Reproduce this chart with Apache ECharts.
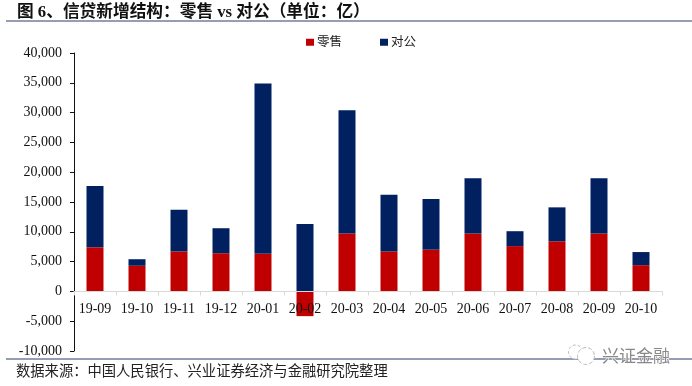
<!DOCTYPE html>
<html><head><meta charset="utf-8">
<style>html,body{margin:0;padding:0;background:#fff}#c{width:692px;height:386px}</style>
<script src="https://cdn.jsdelivr.net/npm/echarts@6/dist/echarts.min.js"></script>
</head><body><div id="c"></div>
<script>
const categories=['19-09','19-10','19-11','19-12','20-01','20-02','20-03','20-04','20-05','20-06','20-07','20-08','20-09','20-10'];
const retail=[7400,4300,6700,6400,6300,-4150,9700,6700,7000,9700,7600,8400,9700,4400];
const corporate=[10300,1100,7000,4200,28600,11300,20700,9500,8500,9300,2500,5700,9300,2200];
const yTicks={min:-10000,max:40000,interval:5000};
const serif='"Liberation Serif","Times New Roman",serif';
const cjk='"Liberation Serif","Noto Sans CJK SC",serif';
const chart=echarts.init(document.getElementById('c'),null,{renderer:'canvas'});
chart.setOption({
  animation:false,
  backgroundColor:'#fff',
  grid:{left:74,right:30,top:53,bottom:35,containLabel:false},
  title:[
    {text:'图 6、信贷新增结构：零售 vs 对公（单位：亿）',left:12,top:-1,textStyle:{fontFamily:cjk,fontSize:16.7,fontWeight:'bold',color:'#111'}},
    {text:'数据来源：中国人民银行、兴业证券经济与金融研究院整理',left:11,top:360,textStyle:{fontFamily:cjk,fontSize:14.3,fontWeight:'normal',color:'#222'}}
  ],
  legend:{data:['零售','对公'],left:301,top:31,icon:'rect',itemWidth:8,itemHeight:7,itemGap:38,textStyle:{fontFamily:cjk,fontSize:12.5,color:'#222',padding:[0,0,0,-2]}},
  xAxis:{type:'category',data:categories,z:5,
    axisLine:{onZero:true,lineStyle:{color:'#d9d9d9',width:1}},
    axisTick:{show:true,alignWithLabel:false,length:4,lineStyle:{color:'#d9d9d9'}},
    axisLabel:{fontFamily:serif,fontSize:14,color:'#111',margin:-49,interval:0,hideOverlap:false,showMinLabel:true,showMaxLabel:true}},
  yAxis:{type:'value',min:yTicks.min,max:yTicks.max,interval:yTicks.interval,
    axisLine:{show:true,lineStyle:{color:'#111',width:1}},
    axisTick:{show:true,length:4,lineStyle:{color:'#111'}},
    splitLine:{show:false},
    axisLabel:{fontFamily:serif,fontSize:14,color:'#111',margin:12,
      formatter:v=>v.toLocaleString('en-US')}},
  series:[
    {name:'零售',type:'bar',stack:'t',data:retail,barWidth:17,itemStyle:{color:'#c00000'}},
    {name:'对公',type:'bar',stack:'t',data:corporate,barWidth:17,itemStyle:{color:'#002060'}}
  ],
  graphic:[
    {type:'line',silent:true,shape:{x1:6,y1:21,x2:692,y2:21},style:{stroke:'#2f3a6b',lineWidth:1}},
    {type:'line',silent:true,shape:{x1:6,y1:359,x2:692,y2:359},style:{stroke:'#2f3a6b',lineWidth:1}},
    {type:'circle',silent:true,z:10,shape:{cx:575.5,cy:352,r:7},style:{fill:'#fff',stroke:'#bbb',lineWidth:1,lineDash:[3,2]}},
    {type:'circle',silent:true,z:10,shape:{cx:586,cy:356,r:8.5},style:{fill:'#fff',stroke:'#bbb',lineWidth:1,lineDash:[4,2]}},
    {type:'text',silent:true,z:10,style:{x:602,y:347,text:'兴证金融',fill:'#888',font:'17px "Noto Sans CJK SC",sans-serif',stroke:'#fff',lineWidth:1}}
  ]
});
</script></body></html>
